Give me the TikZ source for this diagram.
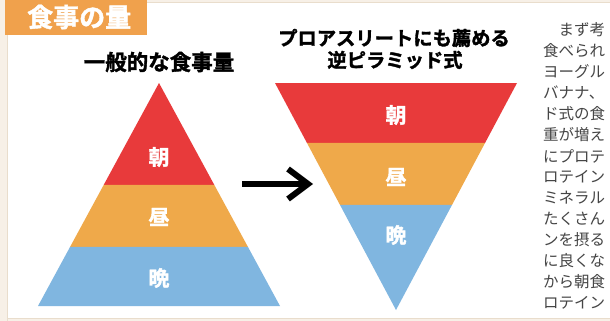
\documentclass[tikz,border=0pt]{standalone}
\usepackage{fontspec}
\newfontfamily\jp{Noto Sans CJK JP}[BoldFont={Noto Sans CJK JP Bold}]
\newfontfamily\jpheavy{Noto Sans CJK JP Bold}[FakeBold=1.6]
\usetikzlibrary{calc,arrows.meta}
\definecolor{pred}{HTML}{E83A3B}
\definecolor{porange}{HTML}{EFA94A}
\definecolor{pblue}{HTML}{80B6E0}
\definecolor{tbox}{HTML}{F0A14C}
\definecolor{bgbeige}{HTML}{F7F0E7}
\definecolor{frameline}{HTML}{E9DDCC}
\definecolor{bodytext}{HTML}{454545}
\begin{document}
\begin{tikzpicture}[x=1pt,y=-1pt,
  lbl/.style={text=white,font=\jpheavy\fontsize{21}{21}\selectfont,inner sep=0pt},
  head/.style={font=\jpheavy\fontsize{21.5}{24}\selectfont,inner sep=0pt,align=center},
  head2/.style={font=\jpheavy\fontsize{19.3}{22}\selectfont,inner sep=0pt,align=center},
  body/.style={font=\jp\fontsize{15.5}{15.5}\selectfont,text=bodytext,inner sep=0pt,anchor=west},
  arrowline/.style={line width=6pt,-{Straight Barb[length=20pt,width=30pt,line width=6pt]}}]
\useasboundingbox (0,0) rectangle (610,321);
% page background and frame
\fill[bgbeige] (0,0) rectangle (610,321);
\fill[white] (7,3) rectangle (610,318);
\draw[frameline,line width=1pt] (7,321) -- (7,3) -- (610,3);
\draw[frameline,line width=1pt] (7,318) -- (610,318);
% title box
\fill[tbox] (5,0) rectangle (147,35);
\node[text=white,font=\jpheavy\fontsize{26}{26}\selectfont,inner sep=0pt,anchor=west] (title) at (27,17) {食事の量};
% headings
\node[head] (h1) at (159,62) {一般的な食事量};
\node[head2] (h2a) at (394,38) {プロアスリートにも薦める};
\node[head2] (h2b) at (395,60) {逆ピラミッド式};
% left pyramid
\coordinate (A) at (159,83);
\coordinate (BL) at (38,306);
\coordinate (BR) at (280,306);
\coordinate (L1) at ($(A)!0.457!(BL)$);
\coordinate (R1) at ($(A)!0.457!(BR)$);
\coordinate (L2) at ($(A)!0.735!(BL)$);
\coordinate (R2) at ($(A)!0.735!(BR)$);
\fill[pred] (A) -- (R1) -- (L1) -- cycle;
\fill[porange] (L1) -- (R1) -- (R2) -- (L2) -- cycle;
\fill[pblue] (L2) -- (R2) -- (BR) -- (BL) -- cycle;
\node[lbl] (la) at (159,157) {朝};
\node[lbl] (lb) at (159,217) {昼};
\node[lbl] (lc) at (159,278) {晩};
% right inverted pyramid
\coordinate (TL) at (275,83);
\coordinate (TR) at (517,83);
\coordinate (V) at (396,310);
\coordinate (M1) at ($(TL)!0.264!(V)$);
\coordinate (N1) at ($(TR)!0.264!(V)$);
\coordinate (M2) at ($(TL)!0.537!(V)$);
\coordinate (N2) at ($(TR)!0.537!(V)$);
\fill[pred] (TL) -- (TR) -- (N1) -- (M1) -- cycle;
\fill[porange] (M1) -- (N1) -- (N2) -- (M2) -- cycle;
\fill[pblue] (M2) -- (N2) -- (V) -- cycle;
\node[lbl] (ra) at (396,115) {朝};
\node[lbl] (rb) at (396,177) {昼};
\node[lbl] (rc) at (396,235) {晩};
% arrow
\coordinate (arrs) at (242,184);
\coordinate (arre) at (313,184);
\draw[arrowline] (arrs) -- (arre);
% body text
\node[body] (t1) at (543,30) {　まず考};
\node[body] (t2) at (543,51) {食べられ};
\node[body] (t3) at (543,72) {ヨーグル};
\node[body] (t4) at (543,93) {バナナ、};
\node[body] (t5) at (543,114) {ド式の食};
\node[body] (t6) at (543,135) {重が増え};
\node[body] (t7) at (543,156) {にプロテ};
\node[body] (t8) at (543,177) {ロテイン};
\node[body] (t9) at (543,198) {ミネラル};
\node[body] (t10) at (543,219) {たくさん};
\node[body] (t11) at (543,240) {ンを摂る};
\node[body] (t12) at (543,261) {に良くな};
\node[body] (t13) at (543,282) {から朝食};
\node[body] (t14) at (543,303) {ロテイン};
\end{tikzpicture}
\end{document}
